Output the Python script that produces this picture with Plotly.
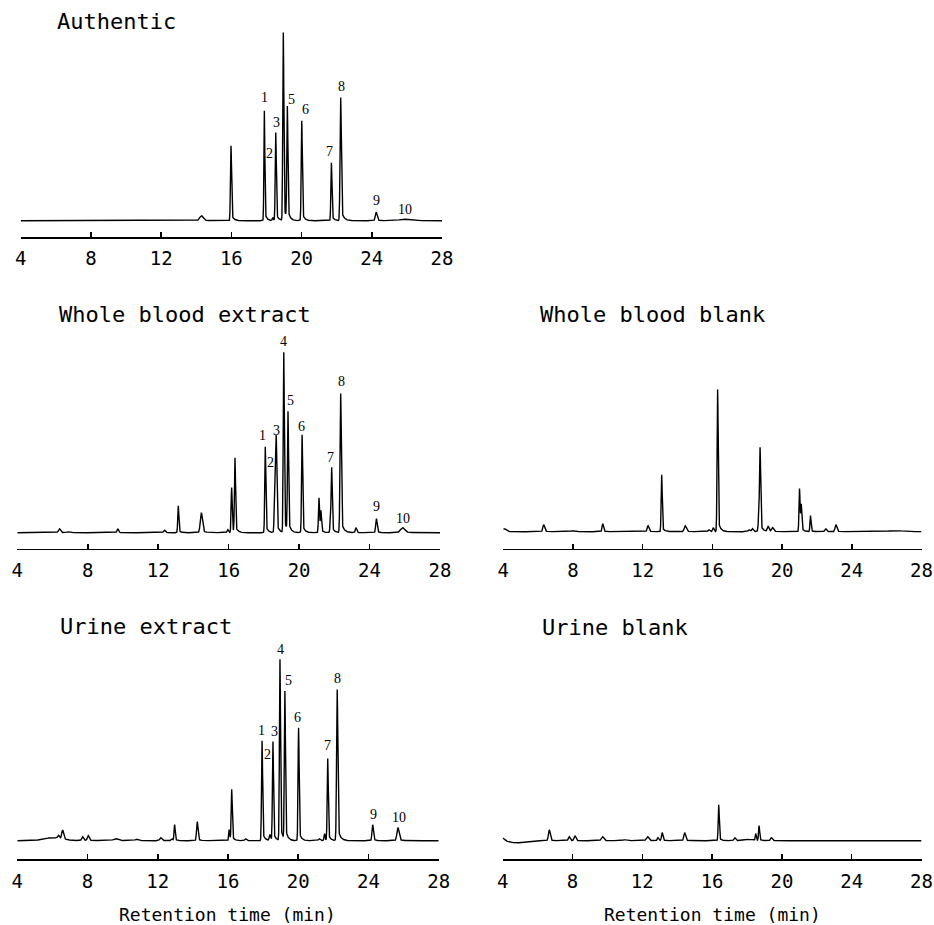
import numpy as np
import plotly.graph_objects as go

# ---------------- data ----------------
tick_vals = [4, 8, 12, 16, 20, 24, 28]
tick_text = ["4", "8", "12", "16", "20", "24", "28"]
x_label = "Retention time (min)"

panel_titles = ["Authentic", "Whole blood extract", "Whole blood blank",
                "Urine extract", "Urine blank"]

# Authentic standard mixture
auth_rt = [14.30, 15.98, 17.88, 18.36, 18.53, 18.96, 19.19, 20.01, 21.70, 22.23, 24.25, 25.84]
auth_h = [5, 75, 110, 3, 88, 188, 112, 100, 58, 123, 8.5, 1.5]
auth_w = [0.10, 0.03, 0.025, 0.03, 0.03, 0.03, 0.03, 0.03, 0.03, 0.035, 0.05, 0.25]
auth_peak_no = {1: 2, 2: 3, 3: 4, 4: 5, 5: 6, 6: 7, 7: 8, 8: 9, 9: 10, 10: 11}

# Whole blood extract
wbe_rt = [6.39, 6.90, 9.70, 12.35, 13.14, 14.45, 15.95, 16.17, 16.36, 18.08, 18.62, 18.70,
          19.13, 19.37, 20.17, 21.13, 21.24, 21.78, 21.85, 22.36, 23.23, 24.39, 25.88]
wbe_h = [4, 1, 4, 2.5, 27, 20, 3, 45, 74, 86, 60, 93,
         180, 119, 98, 35, 21, 12, 64, 139, 5, 14, 5]
wbe_w = [0.06, 0.08, 0.04, 0.05, 0.03, 0.06, 0.04, 0.03, 0.03, 0.03, 0.03, 0.03,
         0.03, 0.03, 0.03, 0.03, 0.03, 0.03, 0.03, 0.035, 0.04, 0.04, 0.12]
wbe_peak_no = {1: 9, 2: 10, 3: 11, 4: 12, 5: 13, 6: 14, 7: 18, 8: 19, 9: 21, 10: 22}

# Whole blood blank
wbb_rt = [4.05, 6.32, 8.00, 9.71, 12.31, 13.09, 14.44, 15.80, 16.05, 16.30, 18.10, 18.30,
          18.68, 18.74, 19.20, 19.45, 21.00, 21.10, 21.63, 22.50, 23.09, 26.50]
wbb_h = [3, 7, 1, 8, 6, 57, 6, 2, 4, 142, 2, 3,
         20, 77, 5, 4, 43, 26, 16, 3, 7, 1.2]
wbb_w = [0.10, 0.05, 0.10, 0.04, 0.05, 0.03, 0.06, 0.05, 0.04, 0.03, 0.05, 0.05,
         0.04, 0.03, 0.05, 0.06, 0.03, 0.03, 0.03, 0.05, 0.05, 0.40]

# Urine extract
ue_rt = [6.00, 6.35, 6.58, 7.72, 8.04, 9.60, 10.80, 12.17, 12.80, 12.96, 14.25, 16.07, 16.21,
         17.00, 17.94, 18.39, 18.56, 18.96, 19.24, 20.02, 21.20, 21.50, 21.68, 22.22, 24.24, 25.68]
ue_h = [3, 3, 9, 4, 5, 2, 1.5, 3, 2, 16, 19, 11, 51,
        2, 100, 6, 99, 181, 148, 113, 2, 7, 82, 151, 16, 13]
ue_w = [0.50, 0.05, 0.05, 0.05, 0.05, 0.12, 0.08, 0.06, 0.05, 0.03, 0.04, 0.03, 0.03,
        0.05, 0.03, 0.04, 0.03, 0.03, 0.03, 0.03, 0.05, 0.03, 0.03, 0.035, 0.04, 0.06]
ue_peak_no = {1: 14, 2: 15, 3: 16, 4: 17, 5: 18, 6: 19, 7: 22, 8: 23, 9: 24, 10: 25}

# Urine blank
ub_rt = [4.00, 4.80, 6.67, 7.81, 8.14, 9.72, 11.00, 12.30, 12.90, 13.14, 14.43, 16.38,
         17.30, 18.00, 18.50, 18.69, 19.40]
ub_h = [3, -2.2, 11, 4, 5, 4, 1, 4, 3, 8, 8, 36,
        3, 1.5, 7, 15, 3]
ub_w = [0.10, 0.40, 0.05, 0.05, 0.05, 0.07, 0.10, 0.07, 0.04, 0.04, 0.05, 0.03,
        0.05, 0.20, 0.03, 0.03, 0.05]

# ---------------- layout / style ----------------
W, H = 934, 925
TAIL_FRAC = 0.10
FONT_MONO = "DejaVu Sans Mono"

# pixel boxes: left, right, top, axis-line y, baseline offset above axis
boxes = {
    "A": (20.7, 442.0, 25, 237.0, 16.3),
    "B": (17.3, 440.0, 335, 548.7, 16.0),
    "C": (503.3, 921.5, 335, 548.7, 17.0),
    "D": (17.3, 438.7, 645, 859.3, 18.6),
    "E": (502.7, 921.5, 645, 859.3, 18.6),
}
title_pos = {"A": (55, 22), "B": (57, 314), "C": (538, 315), "D": (58, 626), "E": (540, 627)}

# label offsets (dx in min, dy in signal units) for peak numbers
lab_off = {
    "A": {1: (-0.02, 13), 2: (-0.21, 64), 3: (0.02, 10), 4: (0.0, 10), 5: (0.21, 9),
          6: (0.19, 11), 7: (-0.13, 11), 8: (0.02, 11), 9: (0.0, 12), 10: (0.04, 10)},
    "B": {1: (-0.13, 11), 2: (-0.27, 10), 3: (-0.01, 9), 4: (0.0, 11), 5: (0.12, 13),
          6: (-0.02, 8), 7: (-0.04, 11), 8: (0.04, 12), 9: (-0.02, 12), 10: (0.04, 9)},
    "D": {1: (-0.06, 10), 2: (-0.15, 80), 3: (0.06, 10), 4: (0.04, 10), 5: (0.22, 12),
          6: (-0.05, 10), 7: (0.0, 13), 8: (0.0, 11), 9: (0.03, 10), 10: (0.05, 10)},
}

t = np.arange(4.0, 28.0 + 1e-9, 0.005)


def chromatogram(rts, hs, ws):
    y = np.zeros_like(t)
    for r, h, s in zip(rts, hs, ws):
        g = np.exp(-0.5 * ((t - r) / s) ** 2)
        tail = np.where(t >= r, np.exp(-np.clip(t - r, 0, None) / (4 * s)), 0.0)
        shape = np.where(t < r, g, (1 - TAIL_FRAC) * g + TAIL_FRAC * tail)
        y += h * shape
    return y


panels = [
    ("A", panel_titles[0], auth_rt, auth_h, auth_w, auth_peak_no),
    ("B", panel_titles[1], wbe_rt, wbe_h, wbe_w, wbe_peak_no),
    ("C", panel_titles[2], wbb_rt, wbb_h, wbb_w, None),
    ("D", panel_titles[3], ue_rt, ue_h, ue_w, ue_peak_no),
    ("E", panel_titles[4], ub_rt, ub_h, ub_w, None),
]

fig = go.Figure()
annotations = []
layout_axes = {}

for i, (key, title, rts, hs, ws, peak_no) in enumerate(panels):
    left, right, top, axis_y, off = boxes[key]
    n = "" if i == 0 else str(i + 1)
    xd = [left / W, right / W]
    yd = [(H - axis_y) / H, (H - top) / H]
    span = axis_y - top
    y = chromatogram(rts, hs, ws)
    fig.add_trace(go.Scatter(x=t, y=y, mode="lines",
                             line=dict(color="black", width=1.4),
                             xaxis="x" + n, yaxis="y" + n,
                             showlegend=False, hoverinfo="skip"))
    layout_axes["xaxis" + n] = dict(
        domain=xd, range=[4, 28], anchor="y" + n, automargin=False,
        tickmode="array", tickvals=tick_vals, ticktext=tick_text,
        ticks="inside", ticklen=5, tickwidth=1.5, tickcolor="black",
        showline=True, linecolor="black", linewidth=1.6, mirror=False,
        showgrid=False, zeroline=False,
        tickfont=dict(family=FONT_MONO, size=19, color="black"),
        ticklabelstandoff=4,
    )
    layout_axes["yaxis" + n] = dict(
        domain=yd, range=[-off, span - off], anchor="x" + n, automargin=False,
        visible=False, showgrid=False, zeroline=False,
    )
    tx, ty = title_pos[key]
    annotations.append(dict(text=title, x=tx / W, y=(H - ty) / H, xref="paper", yref="paper",
                            xanchor="left", yanchor="middle", showarrow=False,
                            font=dict(family=FONT_MONO, size=22, color="black")))
    if peak_no:
        for lab, idx in peak_no.items():
            dx, dy = lab_off[key][lab]
            annotations.append(dict(text=str(lab), x=rts[idx] + dx, y=hs[idx] + dy,
                                    xref="x" + n, yref="y" + n,
                                    xanchor="center", yanchor="middle", showarrow=False,
                                    font=dict(family="Liberation Serif", size=14, color="black")))

for key in ("D", "E"):
    cx = {"D": 227, "E": 712}[key]
    annotations.append(dict(text=x_label, x=cx / W, y=(H - 914) / H, xref="paper", yref="paper",
                            xanchor="center", yanchor="middle", showarrow=False,
                            font=dict(family=FONT_MONO, size=18, color="black")))

fig.update_layout(
    template="none",
    width=W, height=H, margin=dict(l=0, r=0, t=0, b=0, autoexpand=False),
    paper_bgcolor="white", plot_bgcolor="white",
    annotations=annotations, **layout_axes,
)

fig.write_html("out.html", config={"displayModeBar": False, "staticPlot": True},
               post_script="document.body.style.margin='0';")
